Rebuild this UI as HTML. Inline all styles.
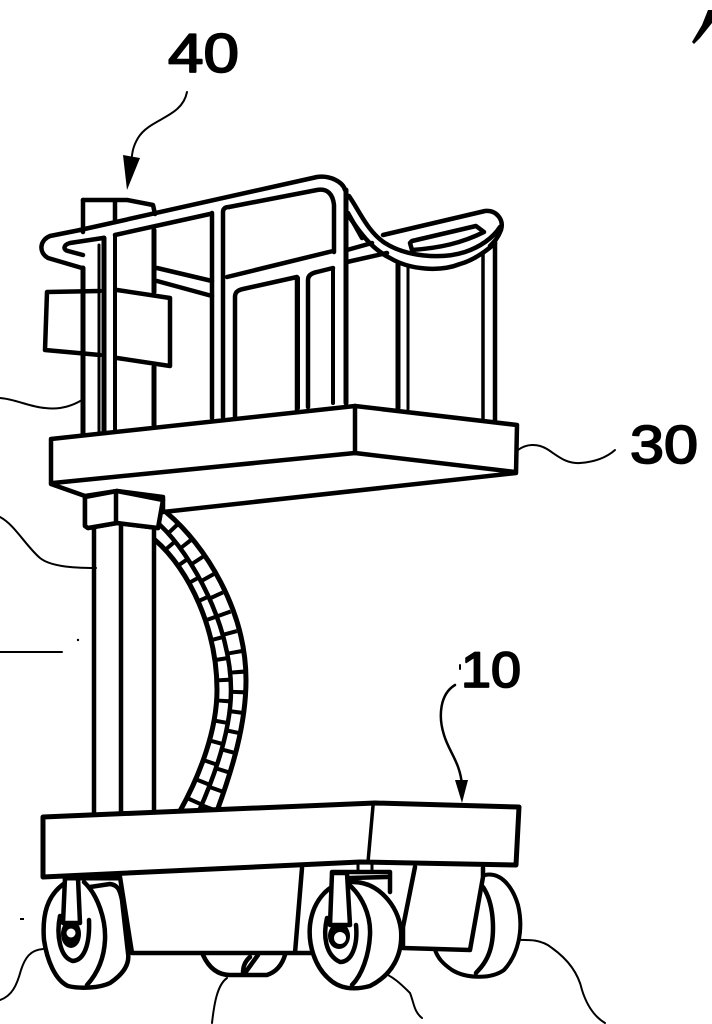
<!DOCTYPE html>
<html><head><meta charset="utf-8"><style>html,body{margin:0;padding:0;background:#fff}svg{display:block}</style></head><body>
<svg width="712" height="1024" viewBox="0 0 712 1024" xmlns="http://www.w3.org/2000/svg" fill="none" stroke="#000" stroke-width="4.5" stroke-linejoin="round" stroke-linecap="round">
<rect width="712" height="1024" fill="#fff" stroke="none"/>
<!-- labels -->
<g font-family="'Liberation Sans',sans-serif" fill="#000" stroke="#000" stroke-width="1.8">
<text x="168" y="72" font-size="55" textLength="71" lengthAdjust="spacingAndGlyphs">40</text>
<text x="630" y="463" font-size="54" textLength="68" lengthAdjust="spacingAndGlyphs">30</text>
<text x="461" y="687" font-size="50" textLength="60" lengthAdjust="spacingAndGlyphs">10</text>
</g>
<!-- leaders -->
<g stroke-width="2">
<path d="M187,92C182,118 150,118 138,138C132,148 132,155 131,165"/>
<path d="M455,685C440,694 438,716 444,735C449,752 460,762 462,785" stroke-width="2.5"/>
<path d="M460,665V669"/>
<path d="M518,450C526,444 537,443 547,449C558,456 566,464 580,463C594,462 606,458 615,450"/>
<path d="M0,398C15,399 30,407 45,408C60,410 72,406 82,400"/>
<path d="M0,517C15,525 25,545 40,558C50,566 70,568 96,568"/>
<path d="M0,652H62"/>
<path d="M43,949C30,950 25,958 21,970C17,985 12,996 0,1000"/>
<path d="M227,978C217,985 214,1005 212,1023"/>
<path d="M380,972C392,975 402,985 410,993C414,1003 414,1012 422,1018"/>
<path d="M510,940C525,940 540,938 552,948C566,958 578,972 582,990C587,1006 595,1017 605,1023"/>
</g>
<path d="M127,190L123,155L140,158Z" fill="#000" stroke="none"/>
<path d="M462,803L455,780L468,780Z" fill="#000" stroke="none"/>
<path d="M692,42L694,44L700,38L712,23V10H708L702,25Z" fill="#000" stroke="none"/>
<circle cx="78" cy="640" r="1.2" fill="#000" stroke="none"/>
<rect x="20" y="918" width="4" height="2" fill="#000" stroke="none"/>

<!-- mast -->
<path d="M94,526V815M121,524V815" />
<path d="M154,528V815" />
<!-- hose -->
<g>
<path d="M163,519C198,550 238,617 238,685C238,727 223,772 208,811" stroke-width="13" stroke-linecap="butt" stroke-linejoin="miter" stroke-dasharray="4 16" stroke-dashoffset="8"/>
<path d="M157,532C191,562 224,627 224,690C224,730 207,775 190,811" stroke-width="12" stroke-linecap="butt" stroke-linejoin="miter" stroke-dasharray="4 17" stroke-dashoffset="4"/>
<path d="M167,513C205,545 246,610 246,680C246,725 232,770 217,811" stroke-width="5"/>
<path d="M160,525C192,555 231,625 231,690C231,730 215,775 199,811" stroke-width="4.5"/>
<path d="M155,540C190,570 217,630 217,690C217,730 200,775 180,811" stroke-width="5"/>
</g>
<path d="M85,497V526L88,528L117,523L158,528L163,500L117,491Z" fill="#fff"/>
<path d="M116,492V523"/>
<!-- rear verticals and sign -->
<path d="M83,200H127L153,205L155,214"/>
<path d="M83,200V232M115,202V222"/>
<path d="M83,268V434" stroke-width="5"/>
<path d="M99,245V432" stroke-width="3"/>
<path d="M104,238V432" stroke-width="5"/>
<path d="M115,235V430" stroke-width="4"/>
<path d="M154,230V292M154,367V425" stroke-width="5"/>
<path d="M157,268L212,281M157,281L212,296" />
<path d="M47,292L100,291M47,292L45,350L100,355" stroke-linejoin="round"/>
<path d="M117,290L170,298V366L117,358"/>
<!-- railing -->
<path d="M80,230L317,177C330,175 343,182 345,190" stroke-width="4.5"/>
<path d="M80,230L50,236C40,240 38,252 48,258L82,268" />
<path d="M103,238L70,243C63,245 63,250 68,251L83,255" />
<path d="M115,235L210,214M229,207L317,190C328,188 333,195 334,205V252"/>
<path d="M212,213V418M223,212C223,208 226,207 229,207M223,212V417" stroke-width="4.5"/>
<path d="M227,277L333,251"/>
<path d="M235,417V297C235,292 238,290 243,289L297,277V410"/>
<path d="M308,407V280C308,275 312,273 317,272L333,268"/>
<path d="M298,278V408" stroke-width="4"/>
<path d="M333,268V403" stroke-width="4"/>
<path d="M346,190V403" stroke-width="5"/>
<!-- S tube and far rail -->
<path d="M347,250L372,243M347,262L387,253M348,213L362,238"/>
<path d="M383,235L485,211C497,210 504,220 501,230C498,238 494,242 490,246"/>
<path d="M410,243L412,250C440,248 462,243 484,232L476,226L412,241Z" />
<path d="M349,196C360,212 368,232 385,243C405,256 440,260 465,252C480,247 493,238 500,227"/>
<path d="M346,212C355,225 368,247 390,258C410,270 440,272 460,264C475,260 490,248 495,243"/>
<path d="M398,263V408" stroke-width="5"/>
<path d="M408,267V409" stroke-width="3"/>
<path d="M483,253V420" stroke-width="3.5"/>
<path d="M495,242V420" stroke-width="4.5"/>
<!-- platform 30 -->
<path d="M51,439L355,406L517,425L516,473L163,512V497L117,491L85,496L51,484Z" fill="#fff"/>
<path d="M53,483L355,453L515,472"/>
<path d="M355,406V453"/>
<path d="M85,497V526L88,528L117,523L158,528L163,500L117,491Z" fill="#fff"/>
<path d="M116,492V523"/>
<!-- rear wheels -->
<path d="M485,875C500,872 512,885 518,905C524,930 518,955 504,970C490,980 465,978 452,970C442,963 438,958 435,950" stroke-width="4" fill="#fff"/>
<path d="M483,887C495,905 496,940 487,958C482,968 478,970 476,973"/>
<path d="M203,955C209,968 218,975 230,975H267C276,972 282,965 285,955M250,957C243,963 243,970 243,973M245,973L258,955"/>
<!-- body under base -->
<path d="M120,877L132,953H312M302,868L295,953M415,867L403,927V948L470,950L483,877V868" />
<!-- front right wheel -->
<path d="M332,872H390V892" />
<path d="M350,878L387,877" />
<path d="M358,862V870M372,862V870" stroke-width="3"/>
<path d="M353,882C378,882 398,905 401,930C403,955 392,975 370,986C355,990 340,990 328,978C315,966 308,945 310,925C313,900 330,880 353,882Z" fill="#fff"/>
<path d="M347,883C362,895 371,915 370,935C369,955 362,975 352,985"/>
<path d="M327,918C323,935 325,955 340,962C352,962 358,945 356,925"/>
<ellipse cx="339" cy="936" rx="11" ry="13" fill="#000" stroke="none"/>
<ellipse cx="340" cy="938" rx="6" ry="6" fill="#fff" stroke="none"/>
<rect x="334" y="927" width="10" height="5" fill="#000" stroke="none"/>
<path d="M332,873L330,925H350L347,873Z" fill="#fff"/>
<!-- front left wheel -->
<path d="M90,887L110,884C118,885 120,890 122,900L128,953C130,965 122,975 110,983C100,988 80,989 68,986C55,980 47,960 44,940C42,915 47,895 65,883" fill="#fff"/>
<path d="M84,882C98,895 106,920 105,940C104,960 96,975 87,985"/>
<path d="M60,916C56,935 60,958 73,961C84,960 90,945 89,920"/>
<ellipse cx="71" cy="934" rx="10" ry="14" fill="#000" stroke="none"/>
<circle cx="71" cy="933" r="4.5" fill="#fff" stroke="none"/>
<path d="M65,878L63,923H80L78,878Z" fill="#fff"/>
<path d="M65,878H118" stroke-width="5"/>
<!-- base 10 -->
<path d="M43,817L375,803L519,807L516,865L360,862L43,877Z" fill="#fff" stroke-width="5"/>
<path d="M373,806L368,862" stroke-width="3.5"/>
</svg>
</body></html>
